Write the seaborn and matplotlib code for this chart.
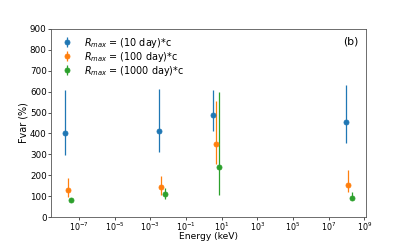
import matplotlib
matplotlib.use("Agg")
import matplotlib.pyplot as plt
import numpy as np
import seaborn as sns

# energies (keV) per band, one array per R_max series
energy_10 = [1.7e-8, 3.0e-3, 3.1, 9.0e7]
energy_100 = [2.4e-8, 4.2e-3, 4.6, 1.26e8]
energy_1000 = [3.5e-8, 6.7e-3, 7.4, 2.0e8]

fvar_10 = [400, 412, 490, 455]
fvar_100 = [130, 142, 348, 155]
fvar_1000 = [82, 110, 240, 93]

# asymmetric errors (lower, upper)
err_lo_10 = [105, 100, 77, 103]
err_hi_10 = [207, 200, 117, 177]
err_lo_100 = [33, 34, 96, 34]
err_hi_100 = [55, 54, 207, 70]
err_lo_1000 = [8, 25, 135, 12]
err_hi_1000 = [8, 27, 356, 25]

labels = [r"$R_{max}$ = (10 day)*c", r"$R_{max}$ = (100 day)*c", r"$R_{max}$ = (1000 day)*c"]
xticks = [1e-7, 1e-5, 1e-3, 1e-1, 1e1, 1e3, 1e5, 1e7, 1e9]

sns.set_style("ticks")
plt.rcParams["font.family"] = ["DejaVu Sans"]
plt.rcParams["text.color"] = "black"
plt.rcParams["axes.labelcolor"] = "black"
plt.rcParams["xtick.color"] = "black"
plt.rcParams["ytick.color"] = "black"
plt.rcParams["axes.edgecolor"] = "#555555"
colors = sns.color_palette("tab10", 3)

dpi = 60
fig, ax = plt.subplots(figsize=(407 / dpi, 244 / dpi), dpi=dpi)
fig.subplots_adjust(left=0.125, right=0.9, bottom=0.11, top=0.882)

series = [
    (energy_10, fvar_10, err_lo_10, err_hi_10),
    (energy_100, fvar_100, err_lo_100, err_hi_100),
    (energy_1000, fvar_1000, err_lo_1000, err_hi_1000),
]
for (x, y, lo, hi), c, lab in zip(series, colors, labels):
    ax.errorbar(x, y, yerr=[lo, hi], fmt="o", color=c, ecolor=c, ms=6, lw=1.5, label=lab)

ax.set_xscale("log")
ax.set_xticks(xticks)
ax.xaxis.set_minor_locator(matplotlib.ticker.NullLocator())
ax.set_ylim(0, 900)
ax.set_yticks(np.arange(0, 901, 100))
ax.set_xlabel("Energy (keV)", fontsize=11)
ax.xaxis.set_label_coords(0.5, -0.08)
ax.set_ylabel("Fvar (%)", fontsize=11.5, labelpad=2)
ax.tick_params(labelsize=10.5, length=3.5, width=0.8)
ax.tick_params(axis="x", pad=0.5, labelsize=9.5)
ax.tick_params(axis="y", pad=1.5)
for s in ax.spines.values():
    s.set_linewidth(1.0)
ax.legend(loc="upper left", frameon=False, fontsize=11.5, labelspacing=0.0,
          borderaxespad=0.3, handletextpad=0.8)
ax.text(0.975, 0.96, "(b)", transform=ax.transAxes, ha="right", va="top", fontsize=13)

fig.savefig("out.png", dpi=dpi)
